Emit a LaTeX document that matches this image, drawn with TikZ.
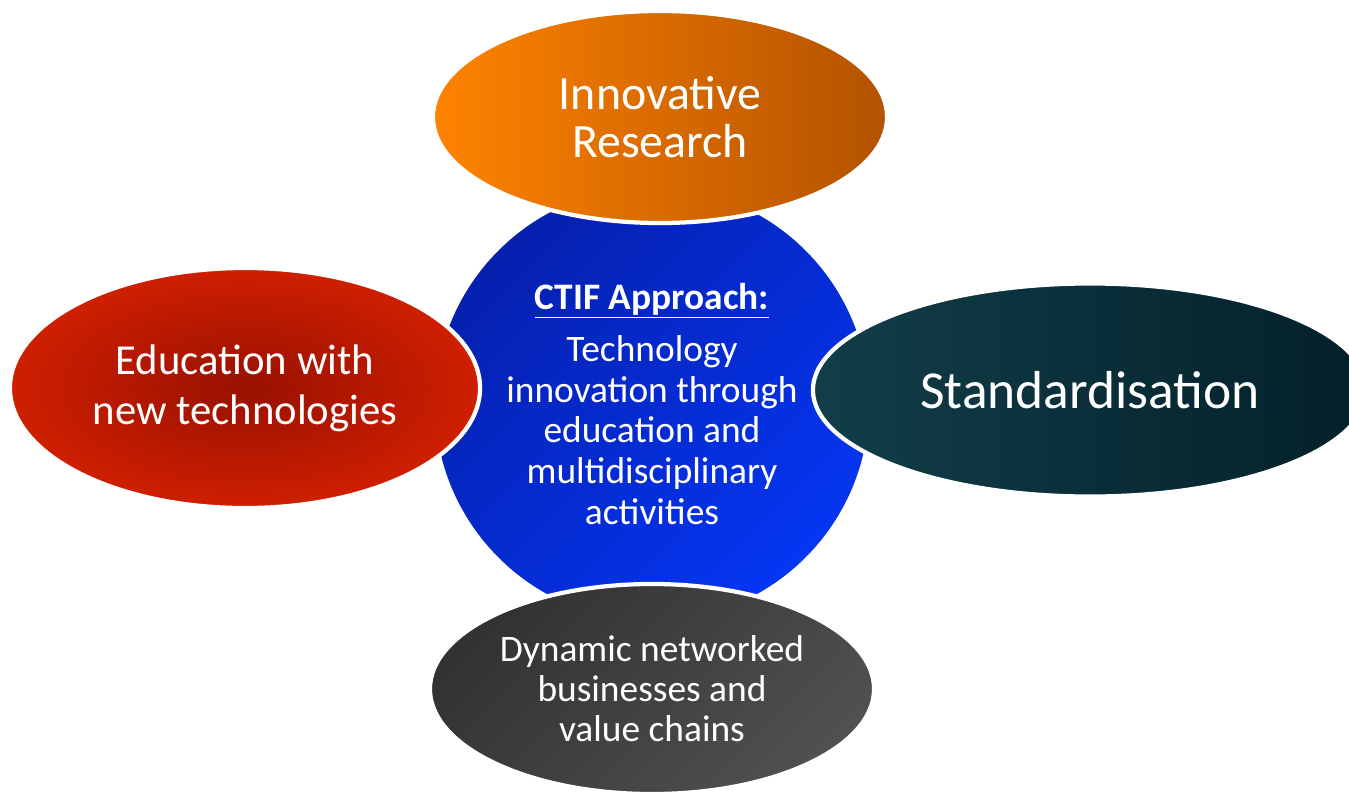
\documentclass[tikz,border=0pt]{standalone}
\usepackage{fontspec}
\setmainfont{Carlito}
\usetikzlibrary{shapes.geometric}

\definecolor{orangeL}{HTML}{FF8300}
\definecolor{orangeR}{HTML}{B35200}
\definecolor{redIn}{HTML}{981100}
\definecolor{redOut}{HTML}{CF1F00}
\definecolor{tealL}{HTML}{123E49}
\definecolor{tealR}{HTML}{03202A}
\definecolor{blueA}{HTML}{0520AE}
\definecolor{blueB}{HTML}{0536F2}
\definecolor{greyA}{HTML}{323232}
\definecolor{greyB}{HTML}{505050}

\begin{document}
\begin{tikzpicture}[x=0.025cm, y=-0.025cm,
    bubble/.style={ellipse, draw=white, line width=3pt, inner sep=0pt, text=white, align=center}]
        \useasboundingbox (0,0) rectangle (1349,792);

        % Draw the centre circle
        \node[circle, inner sep=0pt, minimum size=10.85cm, top color=blueA, bottom color=blueB, shading angle=45,
              text=white, align=center, font=\fontsize{26.6}{28.9}\selectfont] (approach) at (652,404)
            {\textbf{\underline{CTIF Approach:}}\\[8pt] Technology\\ innovation through\\ education and\\ multidisciplinary\\ activities};

        % Draw the four ellipses around it
        \node[bubble, minimum width=11.35cm, minimum height=5.3cm, left color=orangeL, right color=orangeR,
              font=\fontsize{34}{34.5}\selectfont] (research) at (660,117) {Innovative\\ Research};
        \node[bubble, minimum width=11.75cm, minimum height=6cm, inner color=redIn, outer color=redOut,
              font=\fontsize{30.4}{35.6}\selectfont] (education) at (245,388) {Education with\\ new technologies};
        \node[bubble, minimum width=13.85cm, minimum height=5.325cm, left color=tealL, right color=tealR,
              font=\fontsize{38}{42}\selectfont] (standard) at (1090,390) {Standardisation};
        \node[bubble, minimum width=11.1cm, minimum height=5.25cm, top color=greyA, bottom color=greyB, shading angle=45,
              font=\fontsize{26.6}{28.5}\selectfont] (business) at (652,689) {Dynamic networked\\ businesses and\\ value chains};
    \end{tikzpicture}
\end{document}
